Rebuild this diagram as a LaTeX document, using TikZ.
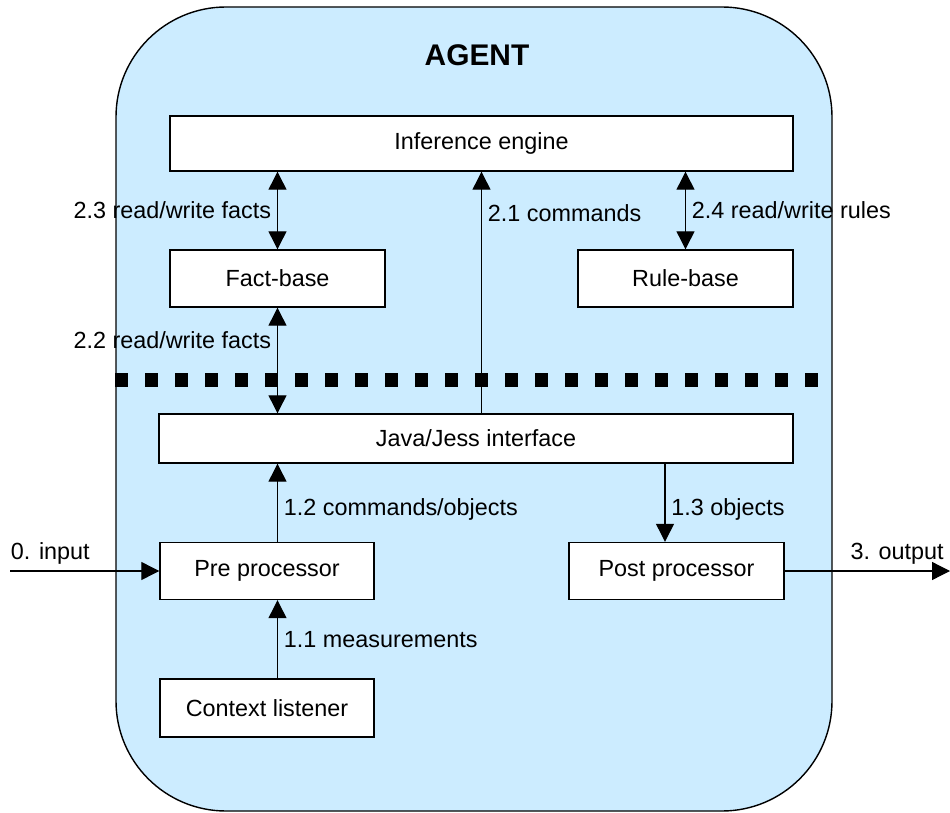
\documentclass[tikz,border=0pt]{standalone}
\usepackage{fontspec}
\setmainfont{Liberation Sans}
\usepackage{tikz}
\usepackage{xcolor}
\usetikzlibrary{arrows.meta}
\definecolor{agentblue}{HTML}{CCECFF}
\tikzstyle{boxes} = [rectangle, minimum width=4.3cm, minimum height=1.14cm, text centered, draw=black, fill=white, line width=0.8pt]
\tikzstyle{arrow} = [line width=0.7pt, ->, >={Triangle[length=0.36cm,width=0.36cm]}]
\tikzstyle{darrow} = [line width=0.7pt, <->, >={Triangle[length=0.36cm,width=0.36cm]}]

\begin{document}
\begin{tikzpicture}[every node/.style={font=\fontsize{13.3}{15}\selectfont}]
            \useasboundingbox (0,0) rectangle (19,-16.26);

            % Draw Agent
            \node(agent) [rectangle, rounded corners=2.2cm, draw=black, line width=0.8pt, fill=agentblue, minimum width=14.32cm, minimum height=16.08cm] at (9.48,-8.18) {};
            \node(title) at (9.54,-1.1) {\bfseries\fontsize{17}{20}\selectfont AGENT};

            % Draw Boxes
            \node(inference) [boxes, minimum width=12.46cm, minimum height=1.1cm] at (9.63,-2.87) {Inference engine};
            \node(factbase) [boxes] at (5.55,-5.57) {Fact-base};
            \node(rulebase) [boxes, right of=factbase, xshift=7.16cm] {Rule-base};
            \node(java) [boxes, minimum width=12.68cm, minimum height=0.98cm] at (9.52,-8.77) {Java/Jess interface};
            \node(pre) [boxes, minimum width=4.28cm] at (5.34,-11.42) {Pre processor};
            \node(post) [boxes, right of=pre, xshift=7.19cm] {Post processor};
            \node(context) [boxes, minimum width=4.28cm, minimum height=1.16cm, below of=pre, yshift=-1.74cm] {Context listener};

            % Separator
            \coordinate(sep) at (0,-7.6);
            \draw[line width=0.28cm, dash pattern=on 0.26cm off 0.34cm] (agent.west |- sep) -- (agent.east |- sep);

            % Draw Arrows
            \coordinate(inputstart) at (0.2,0);
            \coordinate(outputend) at (19,0);
            \coordinate(objects) at ([xshift=-0.23cm]post.north);
            \draw[darrow] (inference.south -| factbase) -- (factbase) node[midway, left] {2.3 read/write facts};
            \draw[darrow] (factbase) -- (java.north -| factbase) node[pos=0.31, left] {2.2 read/write facts};
            \draw[arrow] (java.north -| inference) -- (inference) node[pos=0.83, right] {2.1 commands};
            \draw[darrow] (inference.south -| rulebase) -- (rulebase) node[midway, right] {2.4 read/write rules};
            \draw[arrow] (pre.north -| factbase) -- (java.south -| factbase) node[pos=0.42, right] {1.2 commands/objects};
            \draw[arrow] (java.south -| objects) -- (objects) node[pos=0.58, right] {1.3 objects};
            \draw[arrow] (context.north -| factbase) -- (pre.south -| factbase) node[midway, right] {1.1 measurements};
            \draw[arrow] (inputstart |- pre) -- (pre) node[pos=0.27, above] {0. input};
            \draw[arrow] (post) -- (post -| outputend) node[pos=0.68, above] {3. output};
        \end{tikzpicture}
\end{document}
